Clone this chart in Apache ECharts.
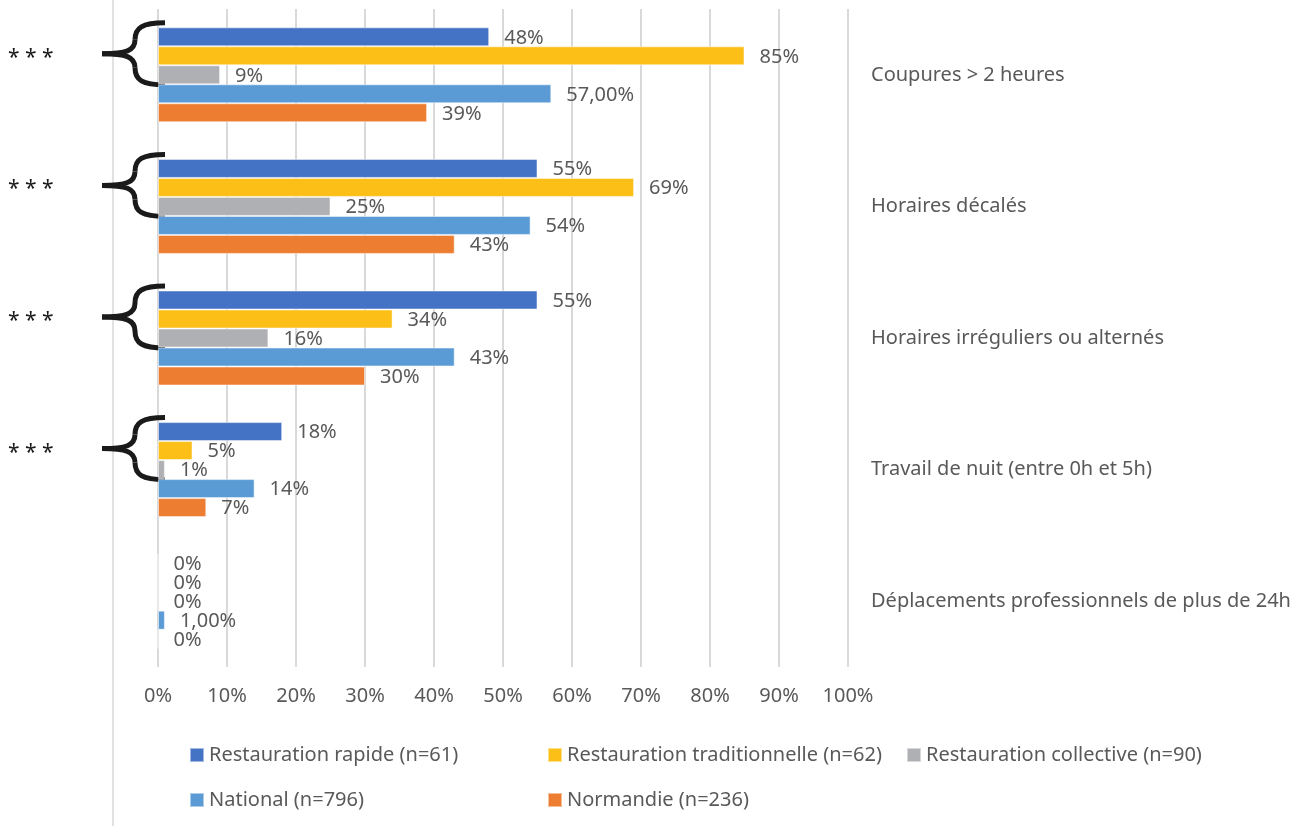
<!DOCTYPE html>
<html>
<head>
<meta charset="utf-8">
<script src="https://cdn.jsdelivr.net/npm/echarts@6/dist/echarts.min.js"></script>
<style>
  html, body { margin: 0; padding: 0; background: #fff; }
  #chart { width: 1314px; height: 826px; }
</style>
</head>
<body>
<div id="chart"></div>
<script>
  // données
  const categories = ['Coupures > 2 heures', 'Horaires décalés', 'Horaires irréguliers ou alternés', 'Travail de nuit (entre 0h et 5h)', 'Déplacements professionnels de plus de 24h']
  const seriesNames = ['Restauration rapide (n=61)', 'Restauration traditionnelle (n=62)', 'Restauration collective (n=90)', 'National (n=796)', 'Normandie (n=236)']
  const rapide = [48, 55, 55, 18, 0]
  const traditionnelle = [85, 69, 34, 5, 0]
  const collective = [9, 25, 16, 1, 0]
  const national = [57, 54, 43, 14, 1]
  const normandie = [39, 43, 30, 7, 0]
  const nationalLabels = ['57,00%', '54%', '43%', '14%', '1,00%']
  const starred = [true, true, true, true, false]

  const colors = ['#4472C4', '#FCBF17', '#AFB0B3', '#5B9BD5', '#ED7D31']
  const font = 'Noto Sans'
  const gray = '#595959'
  const fs = 20

  const values = [rapide, traditionnelle, collective, national, normandie]
  const labels = values.map((arr, i) => i === 3 ? nationalLabels : arr.map(v => v + '%'))

  const legendLeft = [189, 547, 906, 189, 547]
  const legendTop = [745, 745, 745, 790, 790]

  const chart = echarts.init(document.getElementById('chart'))

  let option = {
    animation: false,
    grid: { left: 158, right: 466, top: 9, bottom: 159 },
    xAxis: {
      type: 'value',
      min: 0,
      max: 100,
      interval: 10,
      axisLine: { show: false },
      axisTick: { show: false },
      axisLabel: { formatter: '{value}%', fontSize: fs, color: gray, fontFamily: font, margin: 19 },
      splitLine: { lineStyle: { color: '#d9d9d9', width: 2 } }
    },
    yAxis: {
      type: 'category',
      data: categories,
      inverse: true,
      position: 'right',
      axisLine: { show: false },
      axisTick: { show: false },
      splitLine: { show: false },
      axisLabel: { align: 'left', margin: 23, fontSize: fs, color: gray, fontFamily: font }
    },
    legend: seriesNames.map((n, i) => ({
      data: [n],
      left: legendLeft[i],
      top: legendTop[i],
      padding: 0,
      icon: 'rect',
      itemWidth: 14,
      itemHeight: 14,
      selectedMode: false,
      textStyle: { fontSize: fs, color: gray, fontFamily: font }
    })),
    series: seriesNames.map((n, i) => ({
      name: n,
      type: 'bar',
      data: values[i],
      barWidth: 19,
      barGap: '0%',
      itemStyle: { color: colors[i], borderColor: 'rgba(255,255,255,0.5)', borderWidth: 1 },
      label: {
        show: true,
        position: 'right',
        distance: 15,
        offset: [0, 1],
        fontSize: fs,
        color: gray,
        fontFamily: font,
        formatter: p => labels[i][p.dataIndex]
      }
    }))
  }
  chart.setOption(option)

  // accolades et étoiles de significativité
  const graphics = [{
    type: 'line',
    shape: { x1: 113, y1: 0, x2: 113, y2: 826 },
    style: { stroke: '#d9d9d9', lineWidth: 1.5 }
  }]
  const braceStyle = { stroke: '#1a1a1a', lineWidth: 5, fill: 'none' }
  categories.forEach((c, i) => {
    if (!starred[i]) return
    const ty = chart.convertToPixel({ yAxisIndex: 0 }, c) - 21
    const tx = 102
    graphics.push(
      { type: 'bezierCurve', shape: { x1: tx + 63, y1: ty - 31, cpx1: tx + 40, cpy1: ty - 31, cpx2: tx + 33, cpy2: ty - 26, x2: tx + 33, y2: ty - 14 }, style: braceStyle },
      { type: 'bezierCurve', shape: { x1: tx + 33, y1: ty - 14, cpx1: tx + 33, cpy1: ty - 3, cpx2: tx + 24, cpy2: ty, x2: tx, y2: ty }, style: braceStyle },
      { type: 'bezierCurve', shape: { x1: tx + 63, y1: ty + 31, cpx1: tx + 40, cpy1: ty + 31, cpx2: tx + 33, cpy2: ty + 26, x2: tx + 33, y2: ty + 14 }, style: braceStyle },
      { type: 'bezierCurve', shape: { x1: tx + 33, y1: ty + 14, cpx1: tx + 33, cpy1: ty + 3, cpx2: tx + 24, cpy2: ty, x2: tx, y2: ty }, style: braceStyle },
      { type: 'text', x: 8, y: ty + 4, style: { text: '* * *', fontSize: 21, fontFamily: font, fill: '#1a1a1a', verticalAlign: 'middle' } }
    )
  })
  chart.setOption({ graphic: graphics })

  window.addEventListener('resize', () => {
    chart.resize()
  })
</script>
</body>
</html>
